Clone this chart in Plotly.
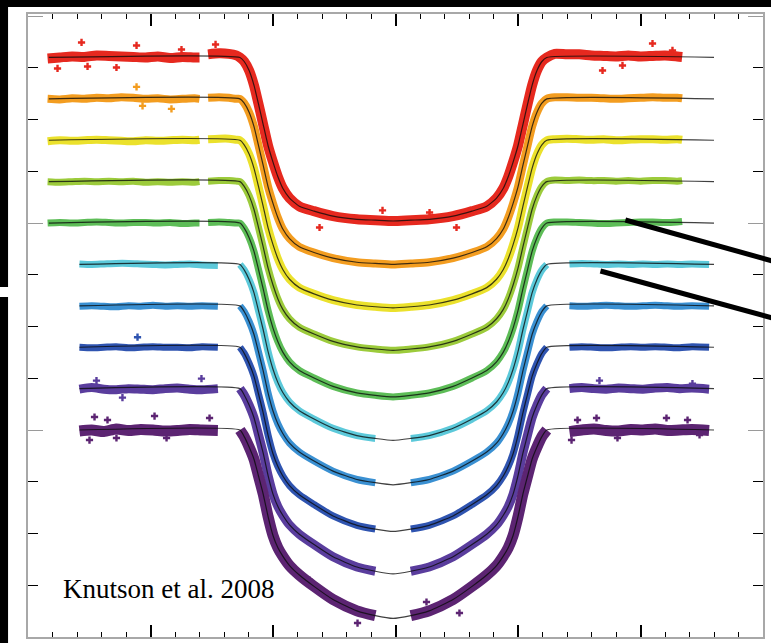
import plotly.graph_objects as go

# Time from mid-transit (hours) at which the fitted light curves are sampled
MODEL_T = [-1.27, -1.235, -1.195, -1.155, -1.12, -1.08, -1.04, -1.00, -0.96, -0.92,
           -0.865, -0.785, -0.665, -0.51, -0.315, -0.165, -0.02, 0.125, 0.275, 0.47,
           0.625, 0.745, 0.825, 0.88, 0.92, 0.96, 1.0, 1.04, 1.08, 1.115, 1.155, 1.195, 1.235]
MODEL_START = [-2.83, -2.83, -2.83, -2.83, -2.83, -2.58, -2.58, -2.58, -2.58, -2.58]
MODEL_END = 2.60

# Normalised flux of the fitted transit model, one list per wavelength channel
MODEL_RED = [1.0, 0.99961, 0.99874, 0.99731, 0.99558, 0.99352, 0.99147, 0.98989, 0.98847, 0.98736,
             0.98641, 0.98562, 0.98515, 0.98467, 0.98436, 0.98428, 0.98420, 0.98428, 0.98436, 0.98467,
             0.98515, 0.98562, 0.98641, 0.98736, 0.98847, 0.98989, 0.99147, 0.99352, 0.99558, 0.99731,
             0.99874, 0.99961, 1.0]
MODEL_ORANGE = [1.0, 0.99958, 0.99870, 0.99731, 0.99558, 0.99357, 0.99150, 0.98990, 0.98851, 0.98742,
                0.98650, 0.98570, 0.98515, 0.98461, 0.98421, 0.98410, 0.98400, 0.98410, 0.98421, 0.98461,
                0.98515, 0.98570, 0.98650, 0.98742, 0.98851, 0.98990, 0.99150, 0.99357, 0.99558, 0.99731,
                0.99870, 0.99958, 1.0]
MODEL_YELLOW = [1.0, 0.99956, 0.99867, 0.99729, 0.99561, 0.99362, 0.99154, 0.98992, 0.98855, 0.98751,
                0.98657, 0.98576, 0.98516, 0.98455, 0.98408, 0.98391, 0.98380, 0.98391, 0.98408, 0.98455,
                0.98516, 0.98576, 0.98657, 0.98751, 0.98855, 0.98992, 0.99154, 0.99362, 0.99561, 0.99729,
                0.99867, 0.99956, 1.0]
MODEL_LIME = [1.0, 0.99954, 0.99865, 0.99731, 0.99565, 0.99369, 0.99164, 0.99001, 0.98867, 0.98766,
              0.98675, 0.98593, 0.98528, 0.98456, 0.98403, 0.98383, 0.98370, 0.98383, 0.98403, 0.98456,
              0.98528, 0.98593, 0.98675, 0.98766, 0.98867, 0.99001, 0.99164, 0.99369, 0.99565, 0.99731,
              0.99865, 0.99954, 1.0]
MODEL_GREEN = [1.0, 0.99951, 0.99859, 0.99726, 0.99560, 0.99363, 0.99153, 0.98985, 0.98853, 0.98753,
               0.98659, 0.98575, 0.98503, 0.98422, 0.98359, 0.98335, 0.98320, 0.98335, 0.98359, 0.98422,
               0.98503, 0.98575, 0.98659, 0.98753, 0.98853, 0.98985, 0.99153, 0.99363, 0.99560, 0.99726,
               0.99859, 0.99951, 1.0]
MODEL_CYAN = [1.0, 0.99947, 0.99854, 0.99725, 0.99561, 0.99369, 0.99157, 0.98987, 0.98858, 0.98762,
              0.98671, 0.98586, 0.98506, 0.98417, 0.98346, 0.98319, 0.98300, 0.98319, 0.98346, 0.98417,
              0.98506, 0.98586, 0.98671, 0.98762, 0.98858, 0.98987, 0.99157, 0.99369, 0.99561, 0.99725,
              0.99854, 0.99947, 1.0]
MODEL_BLUE = [1.0, 0.99945, 0.99849, 0.99723, 0.99562, 0.99372, 0.99157, 0.98984, 0.98858, 0.98767,
              0.98673, 0.98587, 0.98500, 0.98403, 0.98322, 0.98291, 0.98270, 0.98291, 0.98322, 0.98403,
              0.98500, 0.98587, 0.98673, 0.98767, 0.98858, 0.98984, 0.99157, 0.99372, 0.99562, 0.99723,
              0.99849, 0.99945, 1.0]
MODEL_NAVY = [1.0, 0.99941, 0.99843, 0.99719, 0.99557, 0.99366, 0.99149, 0.98971, 0.98847, 0.98756,
              0.98663, 0.98574, 0.98480, 0.98370, 0.98279, 0.98243, 0.98220, 0.98243, 0.98279, 0.98370,
              0.98480, 0.98574, 0.98663, 0.98756, 0.98847, 0.98971, 0.99149, 0.99366, 0.99557, 0.99719,
              0.99843, 0.99941, 1.0]
MODEL_VIOLET = [1.0, 0.99939, 0.99841, 0.99719, 0.99563, 0.99377, 0.99160, 0.98981, 0.98860, 0.98776,
                0.98683, 0.98593, 0.98493, 0.98375, 0.98276, 0.98235, 0.98210, 0.98235, 0.98276, 0.98375,
                0.98493, 0.98593, 0.98683, 0.98776, 0.98860, 0.98981, 0.99160, 0.99377, 0.99563, 0.99719,
                0.99841, 0.99939, 1.0]
MODEL_PLUM = [1.0, 0.99936, 0.99836, 0.99718, 0.99563, 0.99381, 0.99163, 0.98981, 0.98862, 0.98781,
              0.98690, 0.98599, 0.98489, 0.98362, 0.98253, 0.98207, 0.98180, 0.98207, 0.98253, 0.98362,
              0.98489, 0.98599, 0.98690, 0.98781, 0.98862, 0.98981, 0.99163, 0.99381, 0.99563, 0.99718,
              0.99836, 0.99936, 1.0]

# Out-of-transit observations (time in hours, normalised flux); None marks a gap
UPPER_PRE_T = [-2.84, -2.74, -2.64, -2.54, -2.44, -2.34, -2.24, -2.14, -2.04, -1.94,
               -1.84, -1.74, -1.64, -1.60, -1.565, -1.53, -1.44, -1.36, -1.30]
UPPER_POST_T = [1.30, 1.40, 1.50, 1.60, 1.70, 1.80, 1.90, 2.00, 2.10, 2.20, 2.30, 2.34]
LOWER_PRE_T = [-2.58, -2.48, -2.38, -2.28, -2.18, -2.08, -1.98, -1.88, -1.78, -1.68, -1.58, -1.45]
LOWER_POST_T = [1.42, 1.52, 1.62, 1.72, 1.82, 1.92, 2.02, 2.12, 2.22, 2.32, 2.42, 2.56]

PRE_RED = [0.99990, 1.00000, 1.00010, 1.00005, 1.00020, 1.00015, 1.00010, 1.00005, 1.00000, 1.00010,
           0.99995, 1.00005, 1.00000, 1.00000, None, 1.00030, 1.00040, 1.00035, 1.00020]
POST_RED = [1.00035, 1.00030, 1.00030, 1.00020, 1.00015, 1.00010, 1.00020, 1.00010, 1.00015, 1.00020,
            1.00010, 1.00005]
PRE_ORANGE = [1.00000, 0.99995, 1.00005, 1.00000, 1.00010, 1.00005, 1.00015, 1.00010, 1.00000, 1.00005,
              0.99995, 1.00000, 1.00005, 1.00000, None, 1.00010, 1.00015, 1.00010, 1.00000]
POST_ORANGE = [1.00015, 1.00015, 1.00010, 1.00010, 1.00005, 1.00000, 1.00005, 1.00010, 1.00015, 1.00010,
               1.00010, 1.00005]
PRE_YELLOW = [0.99990, 1.00000, 0.99995, 1.00000, 1.00005, 1.00000, 0.99995, 0.99990, 1.00000, 0.99995,
              1.00000, 1.00005, 1.00000, 1.00005, None, 1.00010, 1.00015, 1.00015, 1.00005]
POST_YELLOW = [1.00010, 1.00015, 1.00010, 1.00005, 1.00010, 1.00000, 1.00005, 1.00010, 1.00010, 1.00005,
               1.00010, 1.00005]
PRE_LIME = [1.00000, 0.99995, 1.00000, 1.00005, 1.00000, 1.00005, 1.00000, 1.00005, 0.99995, 1.00000,
            0.99995, 1.00000, 0.99995, 1.00000, None, 1.00005, 1.00010, 1.00010, 1.00005]
POST_LIME = [1.00015, 1.00010, 1.00015, 1.00010, 1.00010, 1.00005, 1.00010, 1.00005, 1.00010, 1.00010,
             1.00005, 1.00010]
PRE_GREEN = [1.00000, 1.00005, 1.00000, 1.00005, 1.00010, 1.00005, 1.00000, 1.00005, 1.00005, 1.00000,
             1.00005, 0.99995, 1.00000, 1.00000, None, 1.00005, 1.00010, 1.00005, 1.00000]
POST_GREEN = [1.00010, 1.00010, 1.00005, 1.00000, 0.99995, 1.00000, 1.00005, 1.00010, 1.00010, 1.00005,
              1.00010, 1.00015]
PRE_CYAN = [1.00005, 1.00000, 1.00005, 1.00010, 1.00010, 1.00005, 1.00000, 0.99995, 1.00000, 1.00005,
            0.99995, 0.99990]
POST_CYAN = [1.00005, 1.00010, 1.00005, 1.00000, 1.00005, 1.00000, 1.00005, 1.00000, 1.00005, 1.00000,
             1.00005, 1.00000]
PRE_BLUE = [0.99995, 1.00000, 0.99995, 0.99990, 1.00000, 0.99995, 1.00005, 0.99995, 1.00000, 0.99995,
            1.00000, 0.99995]
POST_BLUE = [1.00000, 0.99995, 1.00000, 1.00005, 1.00000, 0.99995, 1.00000, 1.00005, 1.00000, 0.99995,
             1.00000, 0.99995]
PRE_NAVY = [1.00000, 0.99995, 1.00000, 1.00005, 0.99995, 1.00000, 1.00005, 1.00000, 1.00000, 0.99995,
            1.00005, 1.00000]
POST_NAVY = [1.00000, 1.00005, 1.00000, 0.99995, 1.00000, 1.00005, 1.00000, 1.00005, 1.00000, 0.99995,
             1.00005, 1.00000]
PRE_VIOLET = [0.99995, 1.00010, 0.99995, 0.99990, 1.00000, 0.99995, 0.99990, 1.00000, 1.00005, 0.99995,
              0.99990, 1.00000]
POST_VIOLET = [1.00000, 1.00010, 1.00000, 0.99995, 1.00005, 1.00000, 0.99995, 1.00005, 1.00010, 1.00000,
               1.00005, 0.99995]
PRE_PLUM = [0.99990, 1.00000, 0.99985, 1.00010, 0.99995, 1.00005, 1.00000, 0.99990, 0.99995, 1.00005,
            1.00000, 0.99995]
POST_PLUM = [0.99985, 1.00000, 1.00010, 0.99995, 0.99990, 1.00005, 1.00000, 1.00010, 0.99995, 1.00000,
             1.00005, 0.99995]

# Scattered individual points lying off the main band
OUT_T_RED = [-2.563, -2.759, -2.114, -1.469, -2.278, -2.514, -1.747, 2.098, 1.690, 2.261, 1.853,
             -0.620, -0.106, 0.278, 0.498]
OUT_F_RED = [1.00145, 0.99894, 1.00116, 1.00126, 0.99903, 0.99913, 1.00077, 1.00135, 0.99874, 1.00068,
             0.99923, 0.98357, 0.98522, 0.98502, 0.98357]
OUT_T_ORANGE = [-2.114, -1.829, -2.065]
OUT_F_ORANGE = [1.00116, 0.99903, 0.99932]
OUT_T_NAVY = [-2.106]
OUT_F_NAVY = [1.00097]
OUT_T_VIOLET = [-2.441, -1.584, -2.229, 1.665, 2.424]
OUT_F_VIOLET = [1.00077, 1.00097, 0.99913, 1.00077, 1.00048]
OUT_T_PLUM = [-2.457, -2.351, -1.967, -1.518, -2.498, -2.278, -1.869, 1.486, 1.641, 2.212, 2.384,
              1.437, 1.812, 2.482, 0.253, -0.310, 0.522, -0.702]
OUT_F_PLUM = [1.00126, 1.00097, 1.00135, 1.00116, 0.99903, 0.99923, 0.99923, 1.00097, 1.00116, 1.00116,
              1.00097, 0.99903, 0.99923, 0.99952, 0.98338, 0.98135, 0.98232, 0.98551]

# Vertical offsets applied to each channel for clarity
OFFSETS = [0.016, 0.012, 0.008, 0.004, 0.0, -0.004, -0.008, -0.012, -0.016, -0.020]
COLORS = ["#e6291f", "#f39d20", "#ebe12c", "#9ccb3b", "#5dbd57",
          "#5cc9da", "#3a90d2", "#2f54b0", "#5a3d9d", "#5c2472"]
BAND_WIDTH = [10, 8, 8, 7, 7, 7, 7, 7, 9, 11]
CENTER_GAP = [False, False, False, False, False, True, True, True, True, True]

MODELS = [MODEL_RED, MODEL_ORANGE, MODEL_YELLOW, MODEL_LIME, MODEL_GREEN,
          MODEL_CYAN, MODEL_BLUE, MODEL_NAVY, MODEL_VIOLET, MODEL_PLUM]
PRES = [PRE_RED, PRE_ORANGE, PRE_YELLOW, PRE_LIME, PRE_GREEN,
        PRE_CYAN, PRE_BLUE, PRE_NAVY, PRE_VIOLET, PRE_PLUM]
POSTS = [POST_RED, POST_ORANGE, POST_YELLOW, POST_LIME, POST_GREEN,
         POST_CYAN, POST_BLUE, POST_NAVY, POST_VIOLET, POST_PLUM]
OUT_T = [OUT_T_RED, OUT_T_ORANGE, [], [], [], [], [], OUT_T_NAVY, OUT_T_VIOLET, OUT_T_PLUM]
OUT_F = [OUT_F_RED, OUT_F_ORANGE, [], [], [], [], [], OUT_F_NAVY, OUT_F_VIOLET, OUT_F_PLUM]


def shift(values, off):
    return [None if v is None else v + off for v in values]


fig = go.Figure()

for k in range(10):
    off = OFFSETS[k]
    upper = MODEL_START[k] < -2.7
    pre_t = UPPER_PRE_T if upper else LOWER_PRE_T
    post_t = UPPER_POST_T if upper else LOWER_POST_T

    band_t = list(pre_t)
    band_f = list(PRES[k])
    if not upper:
        band_t.append(None)
        band_f.append(None)
    for t, f in zip(MODEL_T, MODELS[k]):
        if CENTER_GAP[k] and t == -0.02:
            band_t.append(None)
            band_f.append(None)
            continue
        band_t.append(t)
        band_f.append(f)
    if not upper:
        band_t.append(None)
        band_f.append(None)
    band_t += post_t
    band_f += POSTS[k]

    fig.add_trace(go.Scatter(
        x=band_t, y=shift(band_f, off), mode="lines",
        line=dict(color=COLORS[k], width=BAND_WIDTH[k], shape="spline", smoothing=0.7),
        connectgaps=False, hoverinfo="skip", showlegend=False))
    if OUT_T[k]:
        fig.add_trace(go.Scatter(
            x=OUT_T[k], y=shift(OUT_F[k], off), mode="markers",
            marker=dict(color=COLORS[k], size=6, symbol="cross"),
            hoverinfo="skip", showlegend=False))

for k in range(10):
    off = OFFSETS[k]
    mt = [MODEL_START[k]] + MODEL_T + [MODEL_END]
    mf = [1.0] + MODELS[k] + [1.0]
    fig.add_trace(go.Scatter(
        x=mt, y=shift(mf, off), mode="lines",
        line=dict(color="rgba(10,10,10,0.78)", width=1.2, shape="spline", smoothing=0.5),
        hoverinfo="skip", showlegend=False))

W, H = 771, 643
ML, MR, MT, MB = 28, 6, 14, 6
PW, PH = W - ML - MR, H - MT - MB


def px(xp):
    return (xp - ML) / PW


def py(yp):
    return (H - MB - yp) / PH


shapes = [
    # dark frame strips around the page
    dict(type="rect", xref="paper", yref="paper", x0=px(-5), x1=px(W + 5), y0=py(7), y1=py(-5),
         fillcolor="black", line=dict(width=0), layer="above"),
    dict(type="rect", xref="paper", yref="paper", x0=px(-5), x1=px(8), y0=py(H + 5), y1=py(297),
         fillcolor="black", line=dict(width=0), layer="above"),
    dict(type="rect", xref="paper", yref="paper", x0=px(-5), x1=px(8), y0=py(287), y1=py(-5),
         fillcolor="black", line=dict(width=0), layer="above"),
    # pointer lines
    dict(type="line", xref="paper", yref="paper", x0=px(627), y0=py(220), x1=px(780), y1=py(262.5),
         line=dict(color="black", width=5), layer="above"),
    dict(type="line", xref="paper", yref="paper", x0=px(602), y0=py(271), x1=px(780), y1=py(319.5),
         line=dict(color="black", width=5), layer="above"),
]

fig.update_layout(
    width=W, height=H,
    margin=dict(l=ML, r=MR, t=MT, b=MB),
    paper_bgcolor="white", plot_bgcolor="white",
    shapes=shapes,
    annotations=[dict(text="Knutson et al. 2008", xref="paper", yref="paper",
                      x=px(61), y=py(589), xanchor="left", yanchor="middle", showarrow=False,
                      font=dict(family="Liberation Serif", size=27, color="black"))],
)

fig.update_xaxes(range=[-3, 3], showgrid=False, zeroline=False, showline=True,
                 linecolor="#a8a8a8", linewidth=2, mirror="ticks",
                 ticks="inside", tick0=0, dtick=1, ticklen=12, tickwidth=1.5, tickcolor="black",
                 showticklabels=False,
                 minor=dict(ticks="inside", dtick=0.2, ticklen=5, tickwidth=1.2, tickcolor="black"))
fig.update_yaxes(range=[0.96, 1.0202], showgrid=False, zeroline=False, showline=True,
                 linecolor="#a8a8a8", linewidth=2, mirror="ticks",
                 ticks="inside", tick0=1.0, dtick=0.02, ticklen=15, tickwidth=1.2, tickcolor="#9a9a9a",
                 showticklabels=False,
                 minor=dict(ticks="inside", dtick=0.005, ticklen=10, tickwidth=1.2, tickcolor="black"))

fig.write_html("out.html")
